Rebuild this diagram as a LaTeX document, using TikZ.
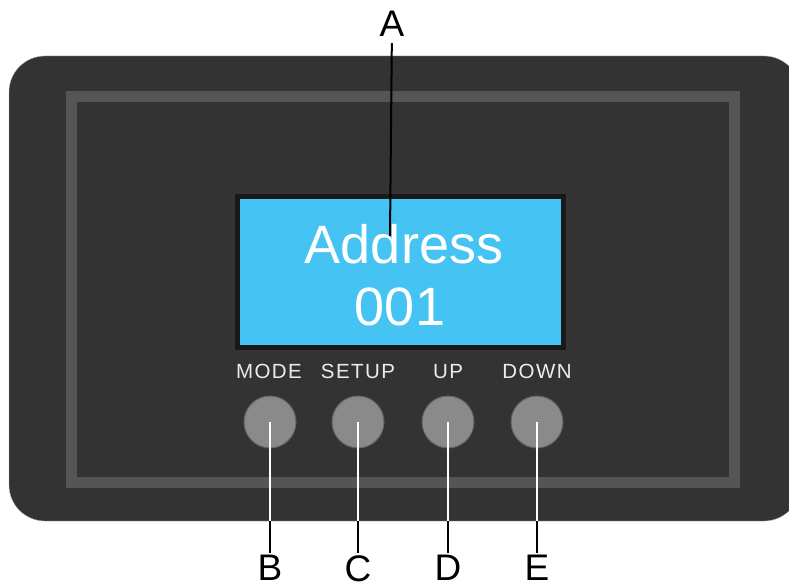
\documentclass[tikz,border=0pt]{standalone}
\usepackage{fontspec}
\setmainfont{Liberation Sans}
\newfontfamily\keyfont[LetterSpace=7]{Liberation Sans}
\usepackage{xcolor}
\usetikzlibrary{positioning}

\definecolor{panelgray}{HTML}{333333}
\definecolor{framegray}{HTML}{555555}
\definecolor{lcdblue}{HTML}{45C3F2}
\definecolor{knobgray}{HTML}{8A8A8A}

\begin{document}
\begin{tikzpicture}[
    x=1pt, y=-1pt,
    knob/.style={circle, fill=knobgray, draw=knobgray!70!black, line width=1pt, minimum size=52pt, inner sep=0pt},
    keytext/.style={text=white!85!gray, font=\keyfont\fontsize{20.5}{20.5}\selectfont, anchor=base},
    letter/.style={font=\fontsize{37}{37}\selectfont, inner sep=2pt},
    pointer/.style={line width=2pt}
]
    \useasboundingbox (0,0) rectangle (789,588);
    \clip (0,0) rectangle (789,588);

    % housing and inner frame
    \draw[fill=panelgray, draw=gray!60, rounded corners=36pt] (9,56) rectangle (800,521);
    \draw[framegray, line width=11pt] (71,97) rectangle (734,482);

    % display
    \node[draw=black!90, line width=5pt, fill=lcdblue, minimum width=326pt, minimum height=151pt, inner sep=0pt] (lcd) at (400,272) {};
    \node[text=white, font=\fontsize{54}{54}\selectfont, anchor=base] (line1) at (404,263) {Address};
    \node[text=white, font=\fontsize{54}{54}\selectfont, anchor=base] (line2) at (400,325) {001};

    % buttons
    \node[knob] (mode) at (270,422) {};
    \node[knob] (setup) at (358,422) {};
    \node[knob] (up) at (448,422) {};
    \node[knob] (down) at (537,422) {};

    \node[keytext] (modetxt) at (269,378) {MODE};
    \node[keytext] (setuptxt) at (358,378) {SETUP};
    \node[keytext] (uptxt) at (448,378) {UP};
    \node[keytext] (downtxt) at (537,378) {DOWN};

    % letters
    \node[letter, inner sep=6pt, anchor=base] (A) at (392,37) {A};
    \node[letter, anchor=north] (B) at (270,553) {B};
    \node[letter, anchor=north] (C) at (358,553) {C};
    \node[letter, anchor=north] (D) at (448,553) {D};
    \node[letter, anchor=north] (E) at (537,553) {E};

    \coordinate (lcdpt) at (390,236);
    \coordinate (bedge) at (270,521);
    \coordinate (cedge) at (358,521);
    \coordinate (dedge) at (448,521);
    \coordinate (eedge) at (537,521);

    % leader lines
    \draw[pointer] (A) -- (lcdpt);
    \draw[pointer, white] (mode.center) -- (bedge);
    \draw[pointer, white] (setup.center) -- (cedge);
    \draw[pointer, white] (up.center) -- (dedge);
    \draw[pointer, white] (down.center) -- (eedge);
    \draw[pointer] (bedge) -- (B);
    \draw[pointer] (cedge) -- (C);
    \draw[pointer] (dedge) -- (D);
    \draw[pointer] (eedge) -- (E);
\end{tikzpicture}
\end{document}
